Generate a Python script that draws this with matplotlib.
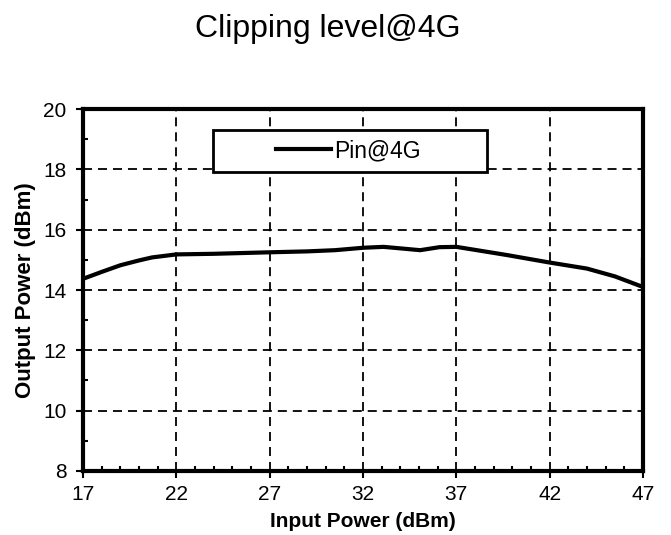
import matplotlib
matplotlib.use("Agg")
import matplotlib.pyplot as plt
from matplotlib.ticker import MultipleLocator
from matplotlib.patches import Rectangle

plt.rcParams['font.family'] = ['Liberation Sans', 'DejaVu Sans']

pin = [17, 18, 19, 20, 20.7, 22, 24, 27, 29, 30.5, 32, 33.1, 34, 35.06, 36.1, 37, 38, 39.7, 42, 44, 45.5, 47, 47]
pout = [14.37, 14.6, 14.82, 14.98, 15.08, 15.18, 15.2, 15.25, 15.28, 15.32, 15.4, 15.43, 15.38, 15.32, 15.42, 15.43, 15.33, 15.16, 14.91, 14.71, 14.45, 14.1, 15.0]
series_name = "Pin@4G"
x_ticks = [17, 22, 27, 32, 37, 42, 47]
y_ticks = [8, 10, 12, 14, 16, 18, 20]

fig = plt.figure(figsize=(6.71, 5.35), dpi=100)
ax = fig.add_axes([83/671, 64/535, 560/671, 362/535])
ax.plot(pin, pout, color='black', lw=3, label=series_name, zorder=3)
ax.set_xlim(17, 47)
ax.set_ylim(8, 20)
ax.set_xticks(x_ticks)
ax.set_yticks(y_ticks)
ax.xaxis.set_minor_locator(MultipleLocator(1))
ax.yaxis.set_minor_locator(MultipleLocator(1))
ax.tick_params(which='major', direction='out', length=5, width=1.5, labelsize=15)
ax.tick_params(axis='x', which='major', pad=5)
ax.tick_params(axis='y', which='major', pad=7)
ax.tick_params(which='minor', direction='in', length=3.5, width=1.5)
ax.tick_params(top=False, right=False, which='both')
ax.grid(True, which='major', color='black', linestyle=(0, (5, 3.3)), lw=1.3)
for s in ax.spines.values():
    s.set_linewidth(3)
    s.set_zorder(5)
ax.set_xlabel('Input Power (dBm)', fontsize=15, fontweight='bold', va='center')
ax.xaxis.set_label_coords(0.499, -0.1385)
ax.set_ylabel('Output Power (dBm)', fontsize=16, fontweight='bold', va='center')
ax.yaxis.set_label_coords(-0.102, 0.5)
fig.text(0.488, 1 - 37/535, 'Clipping level@4G', fontsize=23, ha='center', va='baseline')

# legend box
ax.add_patch(Rectangle((0.232, 0.826), 0.4894, 0.116, transform=ax.transAxes,
                       facecolor='white', edgecolor='black', lw=2, zorder=4))
leg = ax.legend(loc='center', bbox_to_anchor=(0.474, 0.884), frameon=False,
                fontsize=16.5, handlelength=2.4, handletextpad=0.15,
                borderaxespad=0, borderpad=0)
leg.set_zorder(6)
fig.savefig('out.png', dpi=100)
